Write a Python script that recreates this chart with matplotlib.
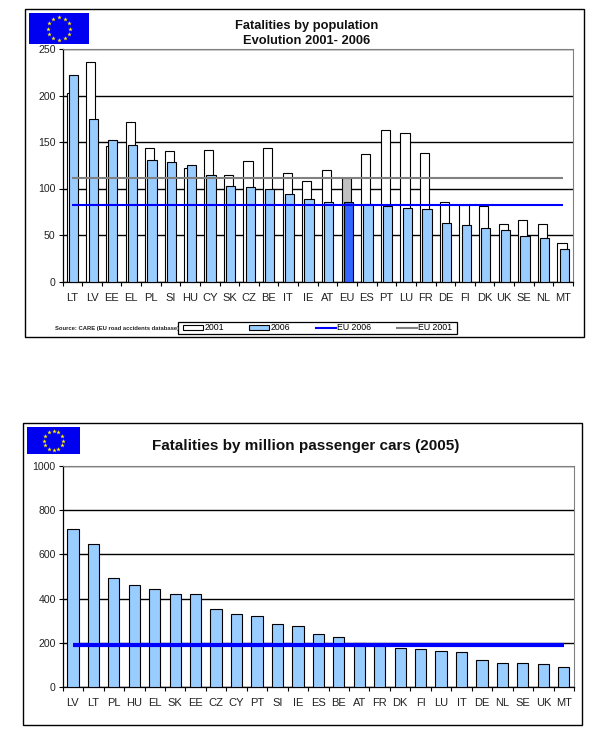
import numpy as np
import matplotlib
matplotlib.use("Agg")
import matplotlib.pyplot as plt
from matplotlib.patches import Rectangle, Patch
from matplotlib.lines import Line2D

plt.rcParams['font.family'] = ['Liberation Sans', 'DejaVu Sans']

# top chart
countries_pop = ['LT', 'LV', 'EE', 'EL', 'PL', 'SI', 'HU', 'CY', 'SK', 'CZ', 'BE', 'IT', 'IE',
                 'AT', 'EU', 'ES', 'PT', 'LU', 'FR', 'DE', 'FI', 'DK', 'UK', 'SE', 'NL', 'MT']
pop_2001 = [203, 236, 146, 172, 144, 140, 122, 141, 114, 130, 144, 117, 108,
            120, 111, 137, 163, 160, 138, 85, 82, 81, 62, 66, 62, 41]
pop_2006 = [222, 175, 152, 147, 131, 129, 125, 114, 103, 102, 99, 94, 89,
            86, 85, 83, 81, 79, 78, 63, 61, 58, 55, 49, 47, 35]
eu_2006 = 82
eu_2001 = 111

# bottom chart
countries_cars = ['LV', 'LT', 'PL', 'HU', 'EL', 'SK', 'EE', 'CZ', 'CY', 'PT', 'SI', 'IE', 'ES',
                  'BE', 'AT', 'FR', 'DK', 'FI', 'LU', 'IT', 'DE', 'NL', 'SE', 'UK', 'MT']
cars_2005 = [716, 645, 495, 463, 445, 422, 422, 355, 332, 322, 286, 277, 241,
             227, 200, 195, 177, 173, 164, 159, 123, 109, 109, 105, 91]
eu_cars = 190

W, H = 613, 743
LIGHT = '#99ccff'
BLUE = '#0000ff'
GRAY = '#808080'


def px_axes(fig, left, top, right, bottom):
    return fig.add_axes([left / W, 1 - bottom / H, (right - left) / W, (bottom - top) / H])


def frame(fig, left, top, right, bottom, lw=1.0):
    fig.patches.append(Rectangle((left / W, 1 - bottom / H), (right - left) / W, (bottom - top) / H,
                                 transform=fig.transFigure, fill=False, ec='black', lw=lw))


def flag(fig, left, top, right, bottom):
    ax = px_axes(fig, left, top, right, bottom)
    ax.set_facecolor('#0000f0')
    ax.set_xlim(0, right - left)
    ax.set_ylim(0, bottom - top)
    ax.set_xticks([])
    ax.set_yticks([])
    for s in ax.spines.values():
        s.set_visible(False)
    a = np.arange(12) * np.pi / 6
    r = (bottom - top) * 0.37
    ax.plot((right - left) / 2 + r * np.sin(a), (bottom - top) / 2 + r * np.cos(a), ls='none',
            marker='*', ms=3.4, mfc='#ffee00', mec='#ffee00', mew=0)


def style_axes(ax, labels, ymax, step):
    n = len(labels)
    ax.set_xlim(-0.5, n - 0.5)
    ax.set_ylim(0, ymax)
    ax.set_yticks(np.arange(0, ymax + step, step))
    ax.yaxis.grid(True, color='black', lw=1.0, zorder=1)
    ax.set_axisbelow(True)
    ax.set_xticks(np.arange(n + 1) - 0.5)
    ax.set_xticklabels([])
    ax.set_xticks(np.arange(n), minor=True)
    ax.set_xticklabels(labels, minor=True)
    ax.tick_params(axis='x', which='major', length=3, width=0.8)
    ax.tick_params(axis='x', which='minor', length=0, pad=8, labelsize=8, labelcolor='#222222')
    ax.tick_params(axis='y', length=3, width=0.8, labelsize=7.6, labelcolor='#222222', pad=2)
    ax.spines['top'].set_color(GRAY)
    ax.spines['right'].set_color(GRAY)
    ax.spines['left'].set_linewidth(0.9)
    ax.spines['bottom'].set_linewidth(0.9)


fig = plt.figure(figsize=(W / 100, H / 100), dpi=100, facecolor='white')

# top chart
frame(fig, 25, 9, 584, 337)
flag(fig, 29, 13, 89, 44)
ax1 = px_axes(fig, 62.5, 49, 573, 281.5)
style_axes(ax1, countries_pop, 250, 50)
x1 = np.arange(len(countries_pop))
eu_i = countries_pop.index('EU')
old_bars = ax1.bar(x1 - 0.055, pop_2001, width=0.47, color='white', edgecolor='black', lw=0.8, zorder=2)
new_bars = ax1.bar(x1 + 0.06, pop_2006, width=0.47, color=LIGHT, edgecolor='black', lw=0.8, zorder=3)
old_bars[eu_i].set_facecolor('#c0c0c0')
new_bars[eu_i].set_facecolor('#3366ff')
ax1.plot(x1, [eu_2001] * len(x1), color=GRAY, lw=1.5, zorder=4, solid_capstyle='butt')
ax1.plot(x1, [eu_2006] * len(x1), color=BLUE, lw=1.5, zorder=5, solid_capstyle='butt')
fig.text(307 / W, 1 - 25.5 / H, 'Fatalities by population', ha='center', va='center',
         fontsize=9.3, fontweight='bold', color='#111111')
fig.text(307 / W, 1 - 41.5 / H, 'Evolution 2001- 2006', ha='center', va='center',
         fontsize=9.3, fontweight='bold', color='#111111')
fig.text(55 / W, 1 - 328 / H, 'Source: CARE (EU road accidents database)', ha='left', va='center',
         fontsize=4.2, fontweight='bold', color='#222222')
frame(fig, 178, 322, 457, 333.5, lw=0.9)
handles = [Patch(fc='white', ec='black', lw=0.8, label='2001'),
           Patch(fc=LIGHT, ec='black', lw=0.8, label='2006'),
           Line2D([], [], color=BLUE, lw=1.5, label='EU 2006'),
           Line2D([], [], color=GRAY, lw=1.5, label='EU 2001')]
fig.legend(handles=handles, ncol=4, loc='center', bbox_to_anchor=(317.5 / W, 1 - 327.8 / H), borderaxespad=0,
           fontsize=6.3, frameon=False, borderpad=0, handlelength=2.3, handleheight=0.5,
           handletextpad=0.15, columnspacing=2.9)

# bottom chart
frame(fig, 23, 423, 582, 725)
flag(fig, 27, 427, 80, 454)
ax2 = px_axes(fig, 62.7, 466, 574, 687)
style_axes(ax2, countries_cars, 1000, 200)
x2 = np.arange(len(countries_cars))
ax2.bar(x2, cars_2005, width=0.55, color=LIGHT, edgecolor='black', lw=0.8, zorder=3)
ax2.plot(x2, [eu_cars] * len(x2), color=BLUE, lw=3.0, zorder=5, solid_capstyle='butt')
fig.text(305.5 / W, 1 - 446 / H, 'Fatalities by million passenger cars (2005)', ha='center', va='center',
         fontsize=11, fontweight='bold', color='#111111')

fig.savefig('out.png', dpi=100, facecolor='white')
